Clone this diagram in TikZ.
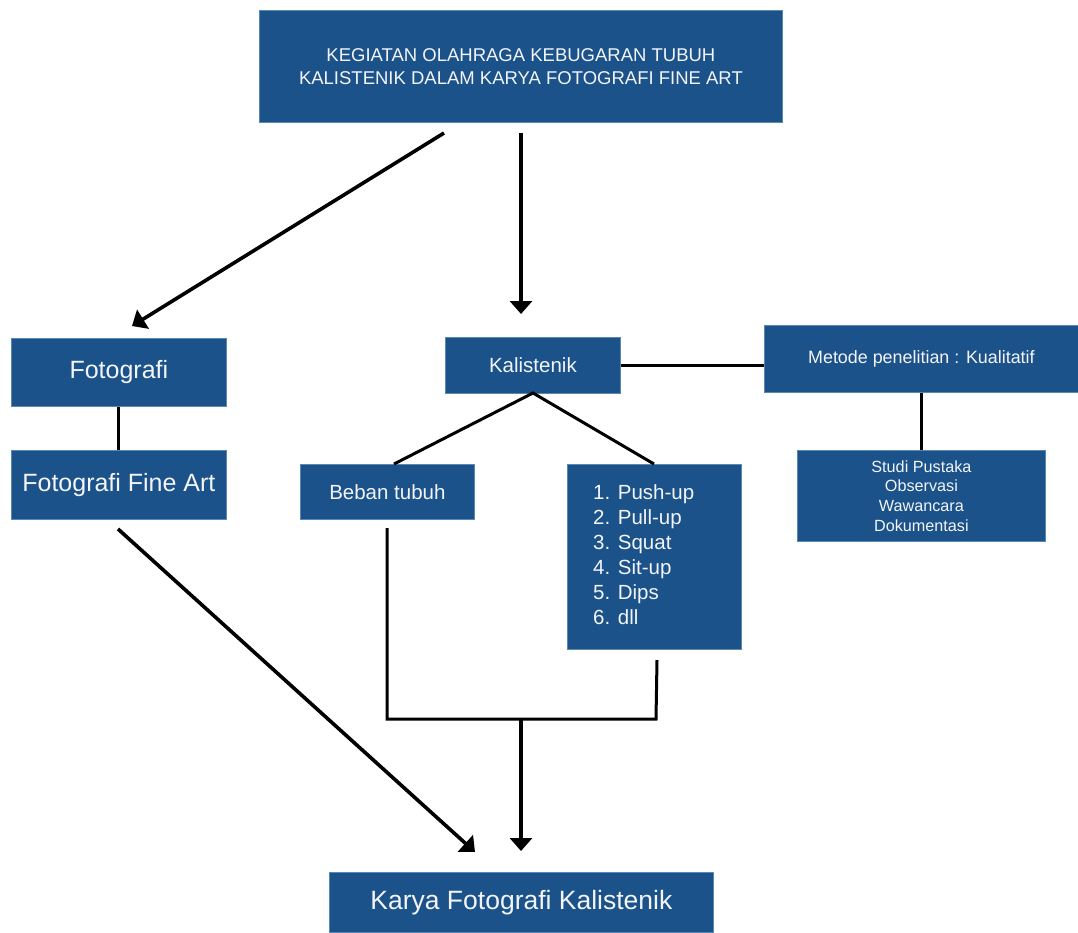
\documentclass[tikz,border=0pt]{standalone}
\usepackage{fontspec}
\setmainfont{Liberation Sans}
\usetikzlibrary{arrows.meta}
\definecolor{boxblue}{RGB}{28,82,138}
\definecolor{boxedge}{RGB}{90,135,180}
\definecolor{boxtext}{RGB}{242,244,248}
\tikzset{
  box/.style={fill=boxblue, draw=boxedge, line width=0.8pt, inner sep=0pt, anchor=north west, text=boxtext, align=center},
  conn/.style={line width=3pt, draw=black},
  arr/.style={line width=3.6pt, draw=black, -{Triangle[width=22pt,length=13pt]}},
}
\begin{document}
\begin{tikzpicture}[x=1pt,y=-1pt]
\useasboundingbox (0,0) rectangle (1078,932);
% boxes
\node[box, minimum width=523pt, minimum height=112pt, font=\fontsize{18.5}{23}\selectfont] (top) at (259,10) {KEGIATAN OLAHRAGA KEBUGARAN TUBUH\\KALISTENIK DALAM KARYA FOTOGRAFI FINE ART};
\node[box, minimum width=215pt, minimum height=68pt, font=\fontsize{25}{30}\selectfont] (foto) at (11,338) {Fotografi};
\node[box, minimum width=215pt, minimum height=69pt, font=\fontsize{25}{30}\selectfont] (ffa) at (11,450) {Fotografi Fine Art};
\node[box, minimum width=175pt, minimum height=56pt, font=\fontsize{20.5}{25}\selectfont] (kal) at (445,337) {Kalistenik};
\node[box, minimum width=314pt, minimum height=67pt, font=\fontsize{17.9}{22}\selectfont] (met) at (764,325) {Metode penelitian : Kualitatif};
\node[box, minimum width=248pt, minimum height=91pt, font=\fontsize{16.2}{19.7}\selectfont] (studi) at (797,450) {Studi Pustaka\\Observasi\\Wawancara\\Dokumentasi};
\node[box, minimum width=174pt, minimum height=55pt, font=\fontsize{20.5}{25}\selectfont] (beban) at (300,464) {Beban tubuh};
\node[box, minimum width=174pt, minimum height=185pt] (list) at (567,464) {};
\node[anchor=north west, inner sep=0pt, align=left, text=boxtext, font=\fontsize{20.5}{25}\selectfont] (listtext) at (593,484) {1. Push-up\\2. Pull-up\\3. Squat\\4. Sit-up\\5. Dips\\6. dll};
\node[box, minimum width=384pt, minimum height=60pt, font=\fontsize{26.5}{32}\selectfont] (karya) at (329,872) {Karya Fotografi Kalistenik};
% coordinates for free ends
\coordinate (t1) at (444,133);
\coordinate (t1e) at (132,326);
\coordinate (t2) at (521,133);
\coordinate (t2e) at (521,314);
\coordinate (f1) at (118,529);
\coordinate (f1e) at (475,852);
\coordinate (b1) at (387,528);
\coordinate (j1) at (387,719);
\coordinate (j2) at (656,719);
\coordinate (l1) at (657,660);
\coordinate (m1) at (521,719);
\coordinate (m1e) at (521,851);
\coordinate (kb) at (533,393);
\coordinate (bt) at (394,464);
\coordinate (lt) at (654,464);
% connectors
\draw[arr] (t1) -- (t1e);
\draw[arr] (t2) -- (t2e);
\draw[conn] (foto.south -| 118,0) -- (ffa.north -| 118,0);
\draw[conn] (kal.east) -- (met.west |- kal.east);
\draw[conn] (met.south -| studi.north) -- (studi.north);
\draw[conn] (bt) -- (kb) -- (lt);
\draw[conn] (b1) -- (j1) -- (j2) -- (l1);
\draw[arr] (m1) -- (m1e);
\draw[arr] (f1) -- (f1e);
\end{tikzpicture}
\end{document}
